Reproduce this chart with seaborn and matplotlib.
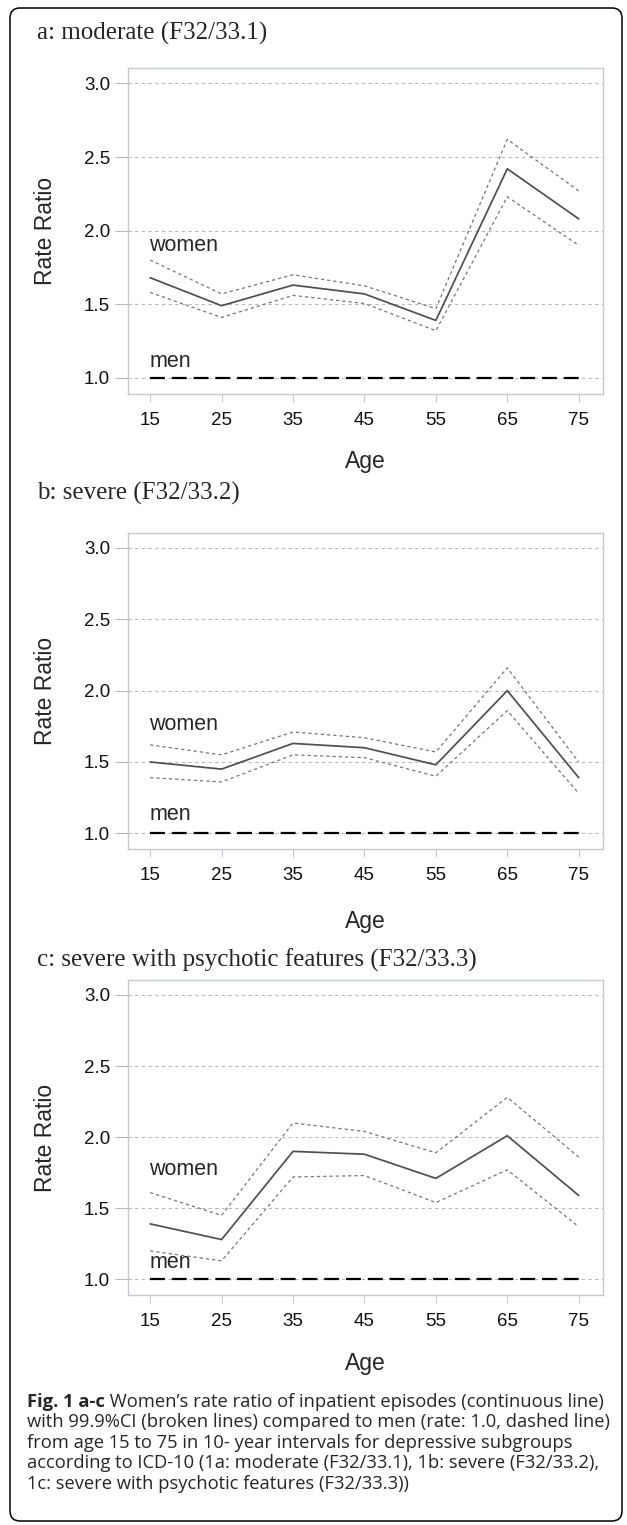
import numpy as np
import pandas as pd
import matplotlib
matplotlib.use("Agg")
import matplotlib.pyplot as plt
from matplotlib.patches import FancyBboxPatch
from matplotlib.transforms import IdentityTransform
import seaborn as sns

# ---- data ----
ages = [15, 25, 35, 45, 55, 65, 75]
men_rate = [1.0, 1.0, 1.0, 1.0, 1.0, 1.0, 1.0]

moderate_rr = [1.68, 1.49, 1.63, 1.57, 1.39, 2.42, 2.08]
moderate_hi = [1.80, 1.57, 1.70, 1.625, 1.47, 2.62, 2.27]
moderate_lo = [1.58, 1.41, 1.56, 1.505, 1.32, 2.23, 1.90]

severe_rr = [1.50, 1.45, 1.63, 1.60, 1.48, 2.00, 1.39]
severe_hi = [1.62, 1.55, 1.71, 1.67, 1.57, 2.16, 1.50]
severe_lo = [1.39, 1.36, 1.55, 1.53, 1.40, 1.86, 1.28]

psychotic_rr = [1.39, 1.28, 1.90, 1.88, 1.71, 2.01, 1.59]
psychotic_hi = [1.61, 1.45, 2.10, 2.04, 1.89, 2.28, 1.86]
psychotic_lo = [1.20, 1.13, 1.72, 1.73, 1.54, 1.77, 1.37]

panel_titles = ["a: moderate (F32/33.1)",
                "b: severe (F32/33.2)",
                "c: severe with psychotic features (F32/33.3)"]
y_ticks = [1.0, 1.5, 2.0, 2.5, 3.0]

caption_bold = "Fig. 1 a-c"
caption_lines = [
    " Women\u2019s rate ratio of inpatient episodes (continuous line)",
    "with 99.9%CI (broken lines) compared to men (rate: 1.0, dashed line)",
    "from age 15 to 75 in 10- year intervals for depressive subgroups",
    "according to ICD-10 (1a: moderate (F32/33.1), 1b: severe (F32/33.2),",
    "1c: severe with psychotic features (F32/33.3))",
]

sns.set_style("white")
plt.rcParams["font.family"] = ["Liberation Sans", "DejaVu Sans"]

W, H = 627, 1525
fig = plt.figure(figsize=(W / 100, H / 100), dpi=100)

# pixel layout of the three panels
panels = [
    dict(top=68, bottom=394, title_y=33, women_y=1.90, men_y=1.11, age_off=56,
         rr=moderate_rr, hi=moderate_hi, lo=moderate_lo),
    dict(top=533, bottom=849, title_y=493, women_y=1.76, men_y=1.13, age_off=61,
         rr=severe_rr, hi=severe_hi, lo=severe_lo),
    dict(top=980, bottom=1295, title_y=960, women_y=1.77, men_y=1.12, age_off=57,
         rr=psychotic_rr, hi=psychotic_hi, lo=psychotic_lo),
]
left_px, right_px = 128, 603
grid_col = "#b8b8b8"
spine_col = "#c5cad0"

for p, title in zip(panels, panel_titles):
    ax = fig.add_axes([left_px / W, 1 - p["bottom"] / H,
                       (right_px - left_px) / W, (p["bottom"] - p["top"]) / H])
    df = pd.DataFrame({"Age": ages, "rr": p["rr"], "hi": p["hi"], "lo": p["lo"], "men": men_rate})

    # 99.9% CI (broken lines)
    sns.lineplot(data=df, x="Age", y="hi", ax=ax, color="#767676", lw=0.9,
                 linestyle=(0, (2.6, 2.4)))
    sns.lineplot(data=df, x="Age", y="lo", ax=ax, color="#767676", lw=0.9,
                 linestyle=(0, (2.6, 2.4)))
    # women's rate ratio
    sns.lineplot(data=df, x="Age", y="rr", ax=ax, color="#4f4f4f", lw=1.25)
    # men reference
    sns.lineplot(data=df, x="Age", y="men", ax=ax, color="black", lw=1.6,
                 linestyle=(0, (6.7, 3.1)))

    ax.set_xlim(11.9, 78.4)
    ax.set_ylim(0.89, 3.105)
    ax.set_xticks(ages)
    ax.set_yticks(y_ticks)
    ax.set_yticklabels([f"{v:.1f}" for v in y_ticks])
    ax.yaxis.grid(True, color=grid_col, linestyle=(0, (3, 3)), lw=0.8)
    ax.xaxis.grid(False)
    for s in ax.spines.values():
        s.set_color(spine_col)
        s.set_linewidth(1.0)
    ax.tick_params(axis="y", length=9.4, width=0.8, color=grid_col, pad=3.5,
                   labelsize=13.5, labelcolor="#111111", left=True)
    ax.tick_params(axis="x", length=5.8, width=0.8, color=spine_col, pad=7,
                   labelsize=13.5, labelcolor="#111111", bottom=True)

    ax.set_ylabel("Rate Ratio", fontsize=16.5)
    ax.yaxis.set_label_coords((45 - left_px) / (right_px - left_px), 0.5)
    ax.yaxis.label.set_va("center")
    ax.set_xlabel("Age", fontsize=16.5)
    ax.xaxis.set_label_coords(0.5, -p["age_off"] / (p["bottom"] - p["top"]))

    ax.text(14.9, p["women_y"], "women", fontsize=15.5, va="center", ha="left")
    ax.text(14.9, p["men_y"], "men", fontsize=15.5, va="center", ha="left")

    fig.text(37 / W, 1 - p["title_y"] / H, title, fontsize=18,
             family=["Liberation Serif", "DejaVu Serif"], va="center", ha="left")

# outer rounded frame
frame = FancyBboxPatch((10, 4), 612, 1513, boxstyle="round,pad=0,rounding_size=10",
                       transform=IdentityTransform(), fill=False, edgecolor="black",
                       linewidth=1.1, figure=fig)
fig.patches.append(frame)

# caption
cap_font = ["Open Sans", "DejaVu Sans"]
cap_size = 13.2
cap_x = 27 / W
cap_y0 = 1402
cap_step = 20.4
renderer = fig.canvas.get_renderer()
t_bold = fig.text(cap_x, 1 - cap_y0 / H, caption_bold, fontsize=cap_size, family=cap_font,
                  weight="bold", va="center", ha="left")
bb = t_bold.get_window_extent(renderer=renderer)
fig.text(bb.x1 / W, 1 - cap_y0 / H, caption_lines[0], fontsize=cap_size, family=cap_font,
         va="center", ha="left")
for i, line in enumerate(caption_lines[1:], start=1):
    fig.text(cap_x, 1 - (cap_y0 + i * cap_step) / H, line, fontsize=cap_size,
             family=cap_font, va="center", ha="left")

fig.savefig("out.png", dpi=100)
